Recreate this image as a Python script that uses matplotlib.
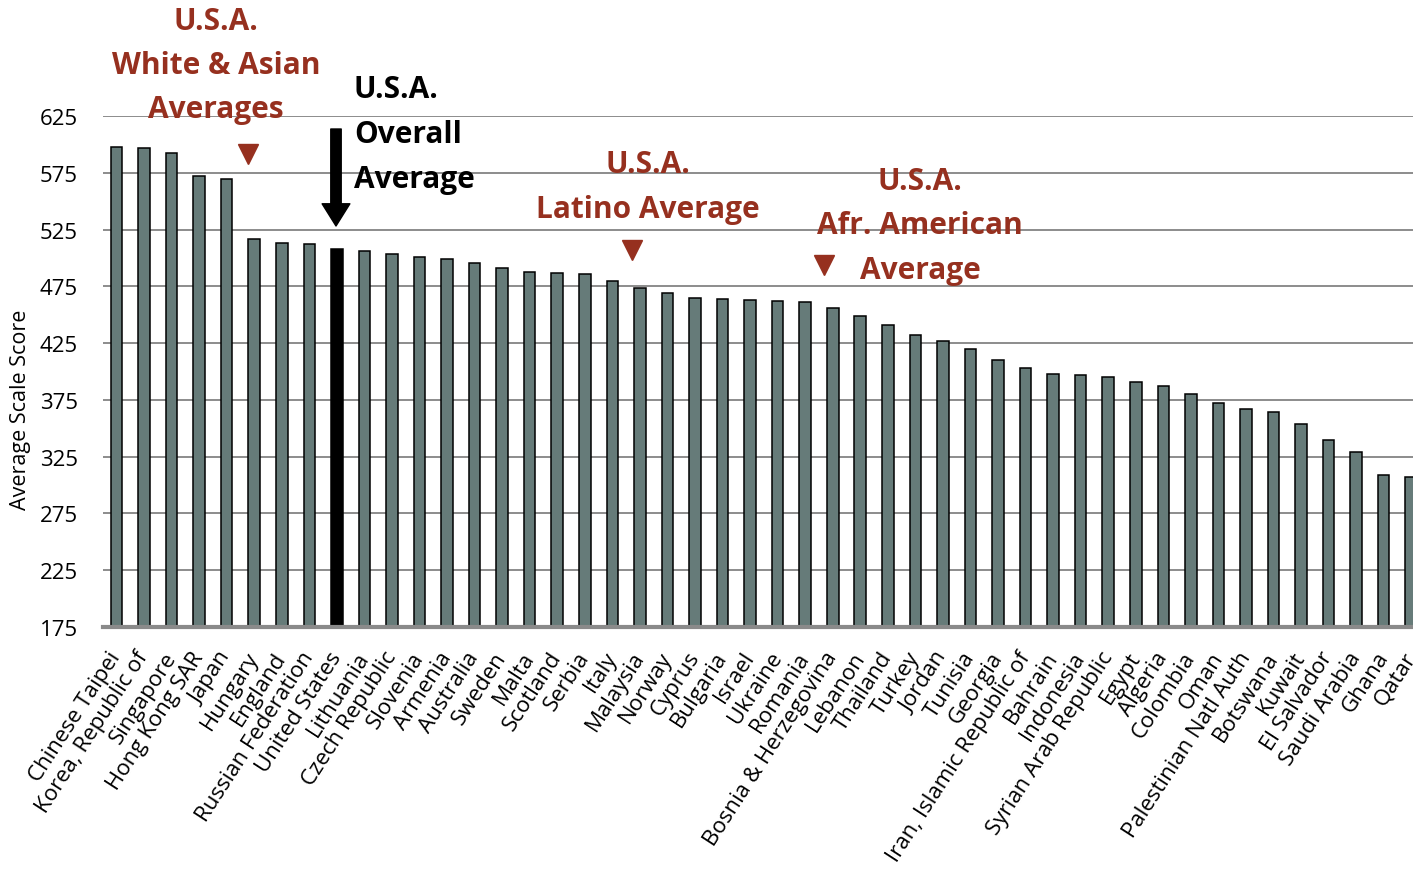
import matplotlib
matplotlib.use("Agg")
import matplotlib.pyplot as plt

countries = [
    "Chinese Taipei", "Korea, Republic of", "Singapore", "Hong Kong SAR", "Japan",
    "Hungary", "England", "Russian Federation", "United States", "Lithuania",
    "Czech Republic", "Slovenia", "Armenia", "Australia", "Sweden", "Malta",
    "Scotland", "Serbia", "Italy", "Malaysia", "Norway", "Cyprus", "Bulgaria",
    "Israel", "Ukraine", "Romania", "Bosnia & Herzegovina", "Lebanon", "Thailand",
    "Turkey", "Jordan", "Tunisia", "Georgia", "Iran, Islamic Republic of",
    "Bahrain", "Indonesia", "Syrian Arab Republic", "Egypt", "Algeria",
    "Colombia", "Oman", "Palestinian Natl Auth", "Botswana", "Kuwait",
    "El Salvador", "Saudi Arabia", "Ghana", "Qatar",
]
scores = [
    598, 597, 593, 572, 570, 517, 513, 512, 508, 506, 504, 501, 499, 496, 491,
    488, 487, 486, 480, 474, 469, 465, 464, 463, 462, 461, 456, 449, 441, 432,
    427, 420, 410, 403, 398, 397, 395, 391, 387, 380, 372, 367, 364, 354, 340,
    329, 309, 307,
]
yticks = [175, 225, 275, 325, 375, 425, 475, 525, 575, 625]

plt.rcParams["font.family"] = ["Open Sans", "DejaVu Sans"]

W, H = 1413, 879
fig = plt.figure(figsize=(W / 100, H / 100), dpi=100)
ax = fig.add_axes([102.7 / W, 1 - 627.7 / H, (1425 - 102.7) / W, (627.7 - 117.3) / H])

colors = ["black" if c == "United States" else "#667b79" for c in countries]
x = list(range(len(countries)))
ax.bar(x, [s - 175 for s in scores], bottom=175, width=0.42, color=colors,
       edgecolor="black", linewidth=1.1, zorder=3)

ax.set_xlim(-0.5, len(countries) - 0.5)
ax.set_ylim(175, 625)
ax.set_yticks(yticks)
ax.set_yticklabels([str(t) for t in yticks], fontsize=16)
ax.yaxis.grid(True, color="#8c8c8c", linewidth=1.4, zorder=0)
ax.tick_params(axis="y", length=0, pad=18)
ax.tick_params(axis="x", length=0, pad=19)
ax.set_xticks(x)
ax.set_xticklabels(countries, rotation=57, ha="right", va="center",
                   rotation_mode="anchor", fontsize=16)
for s in ["top", "right", "left"]:
    ax.spines[s].set_visible(False)
ax.spines["bottom"].set_color("#8a8a8a")
ax.spines["bottom"].set_linewidth(3)
ax.spines["bottom"].set_zorder(4)

fig.text(21 / W, 1 - 410 / H, "Average Scale Score", rotation=90,
         fontsize=15.5, ha="center", va="center")

red = "#96301f"


def put(text, xp, yp, color, ha="center"):
    fig.text(xp / W, 1 - yp / H, text, color=color, fontsize=21.5,
             fontweight="bold", ha=ha, va="center")


put("U.S.A.", 216, 22, red)
put("White & Asian", 216, 66, red)
put("Averages", 216, 110, red)
put("U.S.A.", 354, 90, "black", ha="left")
put("Overall", 354, 135, "black", ha="left")
put("Average", 354, 180, "black", ha="left")
put("U.S.A.", 648, 165, red)
put("Latino Average", 648, 210, red)
put("U.S.A.", 920, 182, red)
put("Afr. American", 920, 226, red)
put("Average", 920, 271, red)

# red down-pointing markers
for xpix, ypix in [(248, 155), (632, 251), (824, 266)]:
    fig.lines.append(plt.Line2D([xpix / W], [1 - ypix / H], marker="v",
                                markersize=15, color=red, linestyle="none",
                                transform=fig.transFigure))

# black arrow to the U.S. bar
ax.annotate("", xy=(336 / W, 1 - 227 / H), xytext=(336 / W, 1 - 130 / H),
            xycoords="figure fraction", textcoords="figure fraction",
            arrowprops=dict(arrowstyle="simple,head_width=2.0,head_length=1.6,tail_width=0.75",
                            color="black", shrinkA=0, shrinkB=0))

fig.savefig("out.png", dpi=100)
